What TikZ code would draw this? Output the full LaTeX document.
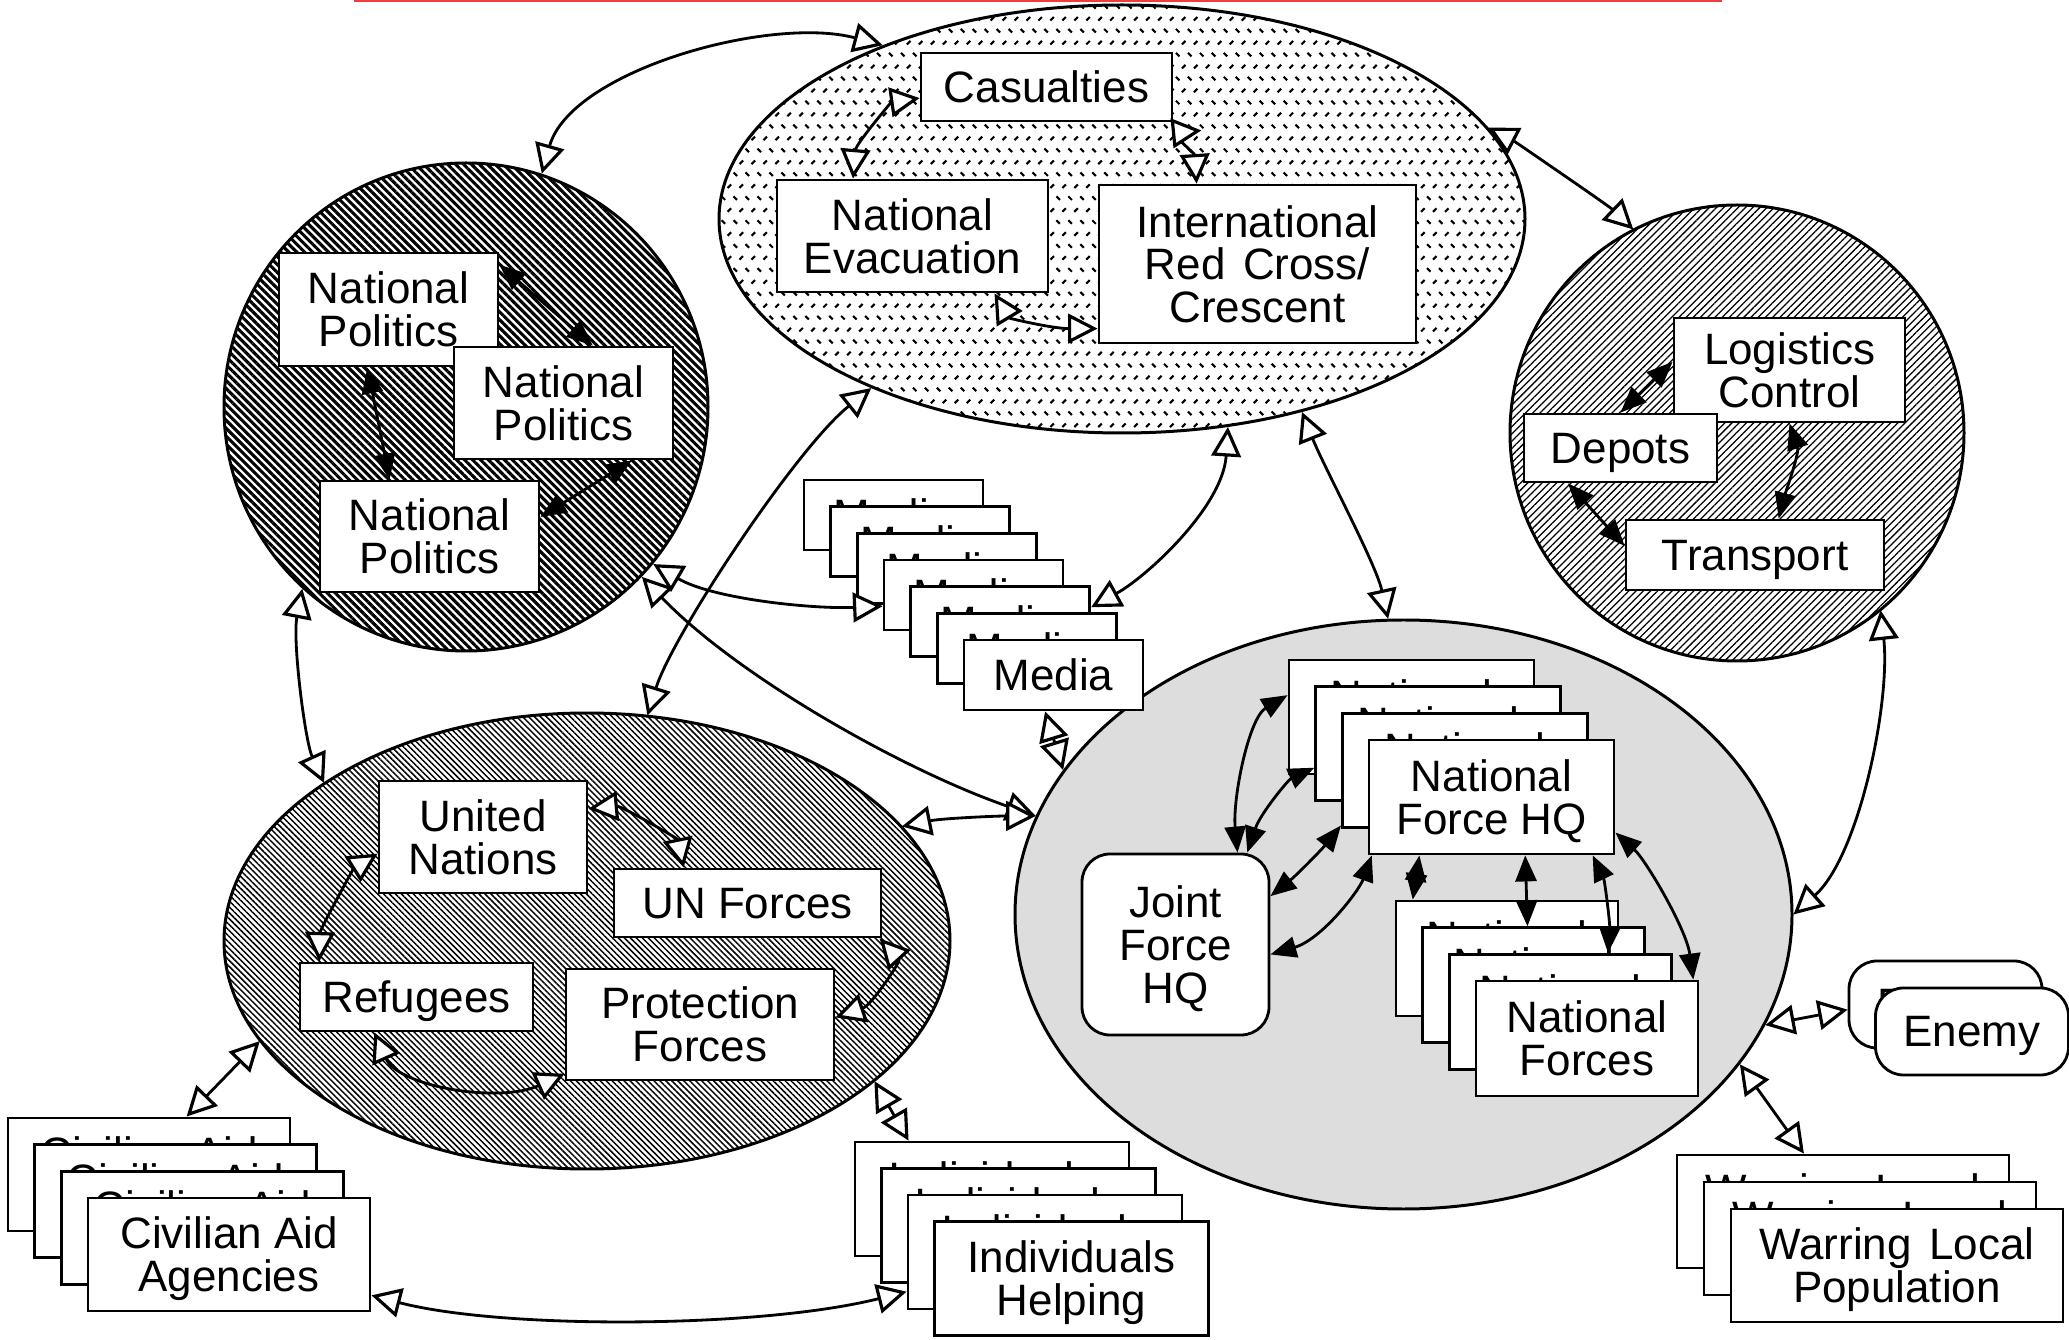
\documentclass[tikz,border=0pt]{standalone}
\usepackage{fontspec}
\setmainfont{Liberation Sans}
\usetikzlibrary{arrows.meta,shapes.geometric,patterns,patterns.meta,calc}

\definecolor{fog}{RGB}{221,221,221}
\definecolor{rule}{RGB}{240,60,60}

% short dashes in alternating rows used inside the casualties region
\pgfdeclarepatternformonly{dashgrid}{\pgfqpoint{-1pt}{0pt}}{\pgfqpoint{6.8pt}{6.8pt}}{\pgfqpoint{6.8pt}{6.8pt}}{
  \pgfsetlinewidth{0.6pt}
  \pgfpathmoveto{\pgfqpoint{1.2pt}{5.6pt}}\pgfpathlineto{\pgfqpoint{2.2pt}{4.6pt}}
  \pgfpathmoveto{\pgfqpoint{4.6pt}{5.6pt}}\pgfpathlineto{\pgfqpoint{5.6pt}{4.6pt}}
  \pgfpathmoveto{\pgfqpoint{2.9pt}{1.2pt}}\pgfpathlineto{\pgfqpoint{3.9pt}{2.2pt}}
  \pgfpathmoveto{\pgfqpoint{-0.5pt}{1.2pt}}\pgfpathlineto{\pgfqpoint{0.5pt}{2.2pt}}
  \pgfusepath{stroke}}

\newcommand\boxfont{\fontsize{12.5}{12.2}\selectfont}

\tikzset{
  wh/.style 2 args={minimum width=#1*0.01cm, minimum height=#2*0.01cm},
  region/.style={ellipse, draw, line width=0.85pt, inner sep=0pt},
  box/.style={draw, line width=0.8pt, fill=white, align=center, inner sep=0pt, text depth=0pt, font=\boxfont},
  rbox/.style={box, rounded corners=0.28cm},
  openhead/.tip={Triangle[fill=white, length=8.4pt, width=8.4pt, line width=0.9pt]},
  solidhead/.tip={Triangle[length=7.4pt, width=6pt]},
  link/.style={line width=0.8pt, arrows={openhead-openhead}},
  inlink/.style={line width=0.8pt, arrows={solidhead-solidhead}},
}

\begin{document}
\begin{tikzpicture}[x=0.01cm, y=-0.01cm]
\useasboundingbox (0,0) rectangle (2069,1340);

\draw[rule, line width=0.5pt] (354,1) -- (1722,1);

% ---- regions ----
\node[region, wh={484}{488}, pattern={Lines[angle=-45,distance=1.6pt,line width=0.88pt]}] (np) at (466,407) {};
\node[region, wh={806}{428}, pattern=dashgrid] (cas) at (1122,219) {};
\node[region, wh={454}{456}, pattern={Lines[angle=45,distance=1.45pt,line width=0.36pt]}] (log) at (1737,433) {};
\node[region, wh={726}{456}, pattern={Lines[angle=-45,distance=1.2pt,line width=0.42pt]}] (un) at (587,941) {};
\node[region, wh={777}{589}, fill=fog] (grey) at (1403.5,914.5) {};

% ---- national politics ----
\node[box, wh={219}{113}] (np1) at (388.5,309.5) {National\\Politics};
\node[box, wh={219}{112}] (np2) at (563.5,403) {National\\Politics};
\node[box, wh={219}{111}] (np3) at (429.5,536.5) {National\\Politics};

% ---- casualties ----
\node[box, wh={251}{68}] (casb) at (1046.5,87) {Casualties};
\node[box, wh={271}{112}] (ne) at (912.5,236) {National\\Evacuation};
\node[box, wh={317}{158}] (rc) at (1257.5,264) {International\\Red\hspace{0.4em}Cross/\\Crescent};

% ---- logistics ----
\node[box, wh={231}{104}] (lc) at (1789.5,370) {Logistics\\Control};
\node[box, wh={193}{68}] (dep) at (1620.5,448) {Depots};
\node[box, wh={258}{70}] (tr) at (1755,555) {Transport};

% ---- united nations ----
\node[box, wh={208}{112}] (unat) at (483,837) {United\\Nations};
\node[box, wh={267}{68}] (unf) at (747.5,903) {UN Forces};
\node[box, wh={233}{68}] (ref) at (416.5,997) {Refugees};
\node[box, wh={268}{111}] (pf) at (700,1024.5) {Protection\\Forces};

% ---- joint force ----
\node[rbox, wh={187}{181}] (jf) at (1175.5,944.5) {Joint\\Force\\HQ};
\foreach \k in {0,...,3}
  \node[box, wh={245}{114}] (nfhq\k) at ({1411.5+26.67*\k},{717+26.67*\k}) {National\\Force HQ};
\foreach \k in {0,...,3}
  \node[box, wh={222}{115}] (nf\k) at ({1507+26.67*\k},{958.5+26.67*\k}) {National\\Forces};

% ---- outside actors ----
\foreach \k in {0,...,6}
  \node[box, wh={179}{70}] (media\k) at ({893.5+26.67*\k},{515+26.67*\k}) {Media};
\foreach \k in {0,1}
  \node[rbox, wh={193}{87}] (enemy\k) at ({1945.5+26.5*\k},{1004.5+27*\k}) {Enemy};
\foreach \k in {0,...,2}
  \node[box, wh={332}{113}] (wlp\k) at ({1843+27*\k},{1211.5+27*\k}) {Warring\hspace{0.4em}Local\\Population};
\foreach \k in {0,...,3}
  \node[box, wh={274}{114}] (ih\k) at ({992+26.5*\k},{1199+26.5*\k}) {Individuals\\Helping};
\foreach \k in {0,...,3}
  \node[box, wh={282}{113}] (caa\k) at ({149+26.67*\k},{1174.5+26.67*\k}) {Civilian Aid\\Agencies};

% ---- links between regions and actors ----
\draw[link] (np.72.7) .. controls +(29,-103) and +(-113,-30) .. (cas.144);
\draw[link] (cas.14.1) .. controls +(25,13) and +(-25,-24) .. (log.117.6);
\draw[link] (cas.-63.2) .. controls +(-5,80) and +(55,-30) .. (media4.9.1);
\draw[link] (cas.-47.6) .. controls +(22,55) and +(-12,-55) .. (grey.93.6);
\draw[link] (log.-51.9) .. controls +(10,91) and +(66,-59) .. (grey.0.8);
\draw[link] (np.-132.5) .. controls +(-10,52) and +(-19,-42) .. (un.149.3);
\draw[link] (cas.-146.5) .. controls +(-75,60) and +(25,-80) .. (un.75.1);
\draw[link] (np.-40) .. controls +(60,35) and +(-70,3) .. (media3.187.6);
\draw[link] (np.-44.2) .. controls +(96,100) and +(-131,-45) .. (grey.165);
\draw[link] (un.20.2) .. controls +(40,-8) and +(-40,0) .. (grey.165.6);
\draw[link] (media6.-103.6) -- (grey.157.8);
\draw[link] (un.197.4) -- (caa0.57.5);
\draw[link] (un.-26.2) -- (ih0.145.5);
\draw[link] (caa3.-16.4) .. controls +(130,34) and +(-148,37) .. (ih2.196.7);
\draw[link] (grey.-17.4) -- (enemy0.183.9);
\draw[link] (grey.-24.7) -- (wlp0.124.6);

% ---- links inside the casualties region ----
\draw[link] (casb.185.9) .. controls +(-28,4) and +(3,-35) .. (ne.136.7);
\draw[link] ($(casb.south east)+(28,8)$) .. controls +(-30,3) and +(-2,-30) .. ($(rc.north west)+(99,0)$);
\draw[link] (ne.-35.2) .. controls +(15,25) and +(-45,0) .. (rc.202.6);

% ---- links inside the united nations region ----
\draw[link] (unat.15.6) .. controls +(33,-3) and +(-6,-29) .. (unf.151);
\draw[link] (unat.189.8) .. controls +(-24,15) and +(1,-33) .. (ref.160.8);
\draw[link] (ref.-140) .. controls +(24,54) and +(-66,30) .. (pf.200.7);
\draw[link] (unf.-15) .. controls +(21,23) and +(36,-12) .. (pf.3.2);

% ---- links inside national politics ----
\draw[inlink] (np1.22.6) -- (np2.63);
\draw[inlink] (np1.-110) -- (np3.125.4);
\draw[inlink] (np2.-40.1) -- (np3.10.1);

% ---- links inside logistics ----
\draw[inlink] (lc.176) -- (dep.90);
\draw[inlink] (lc.south) .. controls +(10,30) and +(8,-30) .. (tr.57.8);
\draw[inlink] (dep.-146.6) -- (tr.176.5);

% ---- links inside the joint force ----
\draw[inlink] (nfhq0.170.7) .. controls +(-39,23) and +(-5,-54) .. (jf.56.2);
\draw[inlink] (nfhq1.191.2) .. controls +(-26,12) and +(13,-39) .. (jf.52.1);
\draw[inlink] (nfhq2.204.4) .. controls +(-20,25) and +(25,-20) .. (jf.27.2);
\draw[inlink] (nfhq3.206.7) .. controls +(-13,36) and +(51,-15) .. (jf.-6.1);
\draw[inlink] (nfhq3.219) -- (nf0.148.8);
\draw[inlink] (nfhq3.-60.3) -- (nf1.96.6);
\draw[inlink] (nfhq3.-30.1) .. controls +(12,25) and +(2,-30) .. (nf2.51.1);
\draw[inlink] (nfhq3.-16.3) .. controls +(30,27) and +(-7,-51) .. (nf3.29.9);
\end{tikzpicture}
\end{document}
